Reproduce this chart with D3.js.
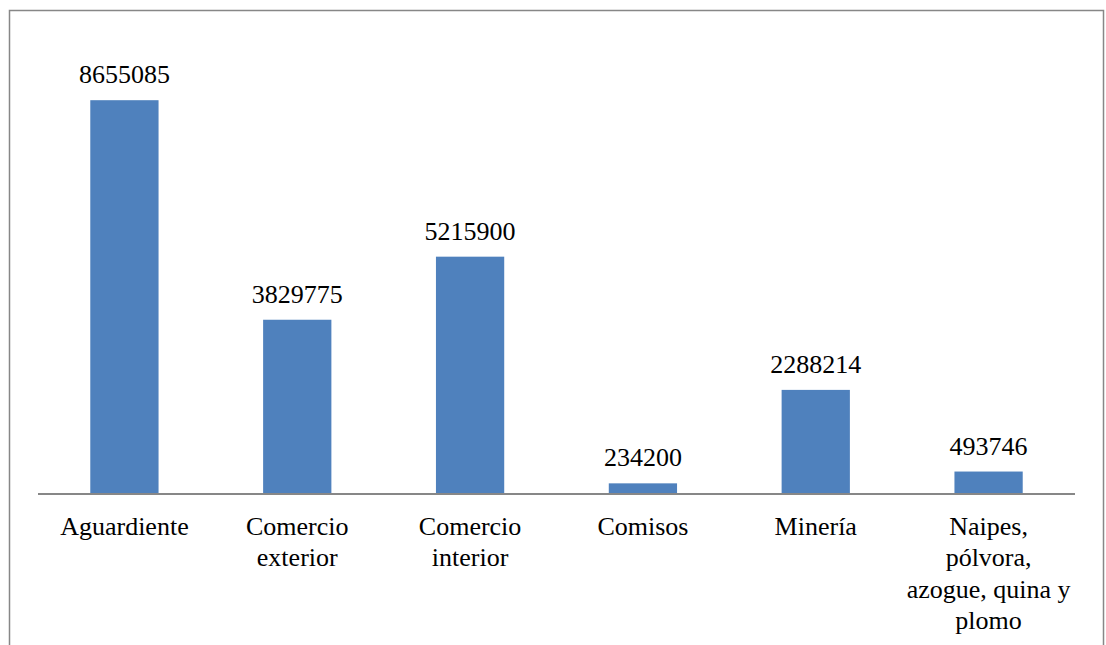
<!DOCTYPE html>
<meta charset="utf-8">
<style>
body { margin: 0; background: #fff; }
.bar { fill: #4f81bd; }
.val, .cat { font-family: "Liberation Serif", "Times New Roman", serif; fill: #000; }
</style>
<svg width="1106" height="645"></svg>
<script src="https://cdn.jsdelivr.net/npm/d3@7"></script>
<script>

var categories = [
  ["Aguardiente"],
  ["Comercio", "exterior"],
  ["Comercio", "interior"],
  ["Comisos"],
  ["Minería"],
  ["Naipes,", "pólvora,", "azogue, quina y", "plomo"]
];
var values = [8655085, 3829775, 5215900, 234200, 2288214, 493746];

var svg = d3.select("svg"),
    margin = {top: 39, right: 31, bottom: 151, left: 38},
    width = +svg.attr("width") - margin.left - margin.right,
    height = +svg.attr("height") - margin.top - margin.bottom;

// outer frame (bottom edge runs off the page)
svg.append("rect")
    .attr("x", 9.5)
    .attr("y", 10.5)
    .attr("width", 1094)
    .attr("height", 700)
    .attr("fill", "none")
    .attr("stroke", "#878787")
    .attr("stroke-width", 1.5);

var x = d3.scaleBand().domain(d3.range(values.length)).range([0, width]).paddingInner(0.605).paddingOuter(0.3025),
    y = d3.scaleLinear().domain([0, 10000000]).range([height, 0]);

var g = svg.append("g")
    .attr("transform", "translate(" + margin.left + "," + margin.top + ")");

g.selectAll(".bar")
  .data(values)
  .enter().append("rect")
    .attr("class", "bar")
    .attr("x", function(d, i) { return x(i); })
    .attr("y", function(d) { return y(d); })
    .attr("width", x.bandwidth())
    .attr("height", function(d) { return height - y(d); });

g.selectAll(".val")
  .data(values)
  .enter().append("text")
    .attr("class", "val")
    .attr("x", function(d, i) { return x(i) + x.bandwidth() / 2; })
    .attr("y", function(d) { return y(d) - 17; })
    .attr("text-anchor", "middle")
    .attr("font-size", 26)
    .text(function(d) { return d; });

// x axis line
g.append("line")
    .attr("x1", 0)
    .attr("x2", width)
    .attr("y1", height)
    .attr("y2", height)
    .attr("stroke", "#878787")
    .attr("stroke-width", 2);

var labels = g.selectAll(".cat")
  .data(categories)
  .enter().append("text")
    .attr("class", "cat")
    .attr("text-anchor", "middle")
    .attr("font-size", 26)
    .attr("transform", function(d, i) {
      return "translate(" + (x(i) + x.bandwidth() / 2) + "," + (height + 41) + ")";
    });

labels.selectAll("tspan")
  .data(function(d) { return d; })
  .enter().append("tspan")
    .attr("x", 0)
    .attr("y", function(d, i) { return i * 31.3; })
    .text(function(d) { return d; });

</script>
